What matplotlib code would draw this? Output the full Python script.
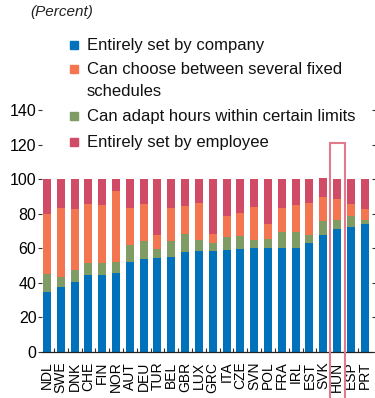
import matplotlib
matplotlib.use("Agg")
import matplotlib.pyplot as plt
import numpy as np
from matplotlib.patches import Rectangle

plt.rcParams["font.family"] = ["Liberation Sans", "DejaVu Sans"]

countries = ["NDL", "SWE", "DNK", "CHE", "FIN", "NOR", "AUT", "DEU", "TUR", "BEL",
             "GBR", "LUX", "GRC", "ITA", "CZE", "SVN", "POL", "FRA", "IRL", "EST",
             "SVK", "HUN", "ESP", "PRT"]
company = [35, 37.5, 40.5, 44.5, 44.5, 46, 52, 54, 54.5, 55,
           58, 58.5, 58.5, 59, 59.5, 60.5, 60.5, 60.5, 60.5, 63,
           68, 71.5, 72.5, 74]
adapt = [10, 6, 7, 7, 7, 6, 10, 10, 5, 9,
         10.5, 6.5, 4.5, 7.5, 7.5, 4.5, 5, 9, 9, 4.5,
         8, 5, 6, 2.5]
schedules = [35, 40, 35.5, 34, 33.5, 41, 21.5, 21.5, 8, 19.5,
             16, 21, 5.5, 12, 13.5, 19, 8.5, 14, 15.5, 19,
             14, 12, 7, 6.5]
employee = [20, 16.5, 17, 14.5, 15, 7, 16.5, 14.5, 32.5, 16.5,
            15.5, 14, 31.5, 21.5, 19.5, 16, 26, 16.5, 15, 13.5,
            10.5, 11.5, 14.5, 17]
yticks = [0, 20, 40, 60, 80, 100, 120, 140]
highlight = "HUN"

labels = ["Entirely set by company", "Can choose between several fixed\nschedules",
          "Can adapt hours within certain limits", "Entirely set by employee"]
colors = {"company": "#0072bc", "schedules": "#f47651", "adapt": "#7e9c63",
          "employee": "#d04b66"}

fig = plt.figure(figsize=(3.75, 3.98), dpi=100)
ax = fig.add_axes([0.112, 0.1156, 0.88, 0.6075])

x = np.arange(len(countries))
w = 0.58
# stacking order: company, adapt, schedules, employee
bottom = np.zeros(len(countries))
for key, vals in [("company", company), ("adapt", adapt),
                  ("schedules", schedules), ("employee", employee)]:
    ax.bar(x, vals, w, bottom=bottom, color=colors[key], linewidth=0)
    bottom += np.array(vals)

ax.set_xlim(-0.36, 23.53)
ax.set_ylim(0, 140)
ax.set_yticks(yticks)
ax.tick_params(axis="y", labelsize=11.5, length=3, width=0.8, color="#333333",
               right=True, labelright=False, pad=1)
ax.set_xticks(x)
ax.set_xticklabels(countries, rotation=90, fontsize=10)
ax.tick_params(axis="x", which="major", length=0, pad=7)
ax.set_xticks(x[:-1] + 0.5, minor=True)
ax.tick_params(axis="x", which="minor", direction="in", length=3, width=0.8,
               color="#333333")
for side in ["left", "right", "top"]:
    ax.spines[side].set_visible(False)
ax.spines["bottom"].set_linewidth(0.9)
ax.spines["bottom"].set_color("#222222")

# outline around the highlighted country
i = countries.index(highlight)
ax.add_patch(Rectangle((i - 0.54, -40), 1.08, 161, fill=False, edgecolor="#e07a8c",
                       linewidth=1.5, clip_on=False, zorder=5))

fig.text(30 / 375, 1 - 12 / 398, "(Percent)", fontsize=11, style="italic",
         va="center", ha="left", color="#222222")

# legend: colour squares next to their labels
legend_y = [45, 69, 116, 142]
keys = ["company", "schedules", "adapt", "employee"]
for key, lab, yy in zip(keys, labels, legend_y):
    fig.patches.append(Rectangle((70 / 375, 1 - (yy + 4) / 398), 8 / 375, 8 / 398,
                                 transform=fig.transFigure, color=colors[key]))
    fig.text(87 / 375, 1 - (yy - 7) / 398, lab, fontsize=12, va="top", ha="left",
             linespacing=1.55, color="#111111")

fig.savefig("out.png", dpi=100)
